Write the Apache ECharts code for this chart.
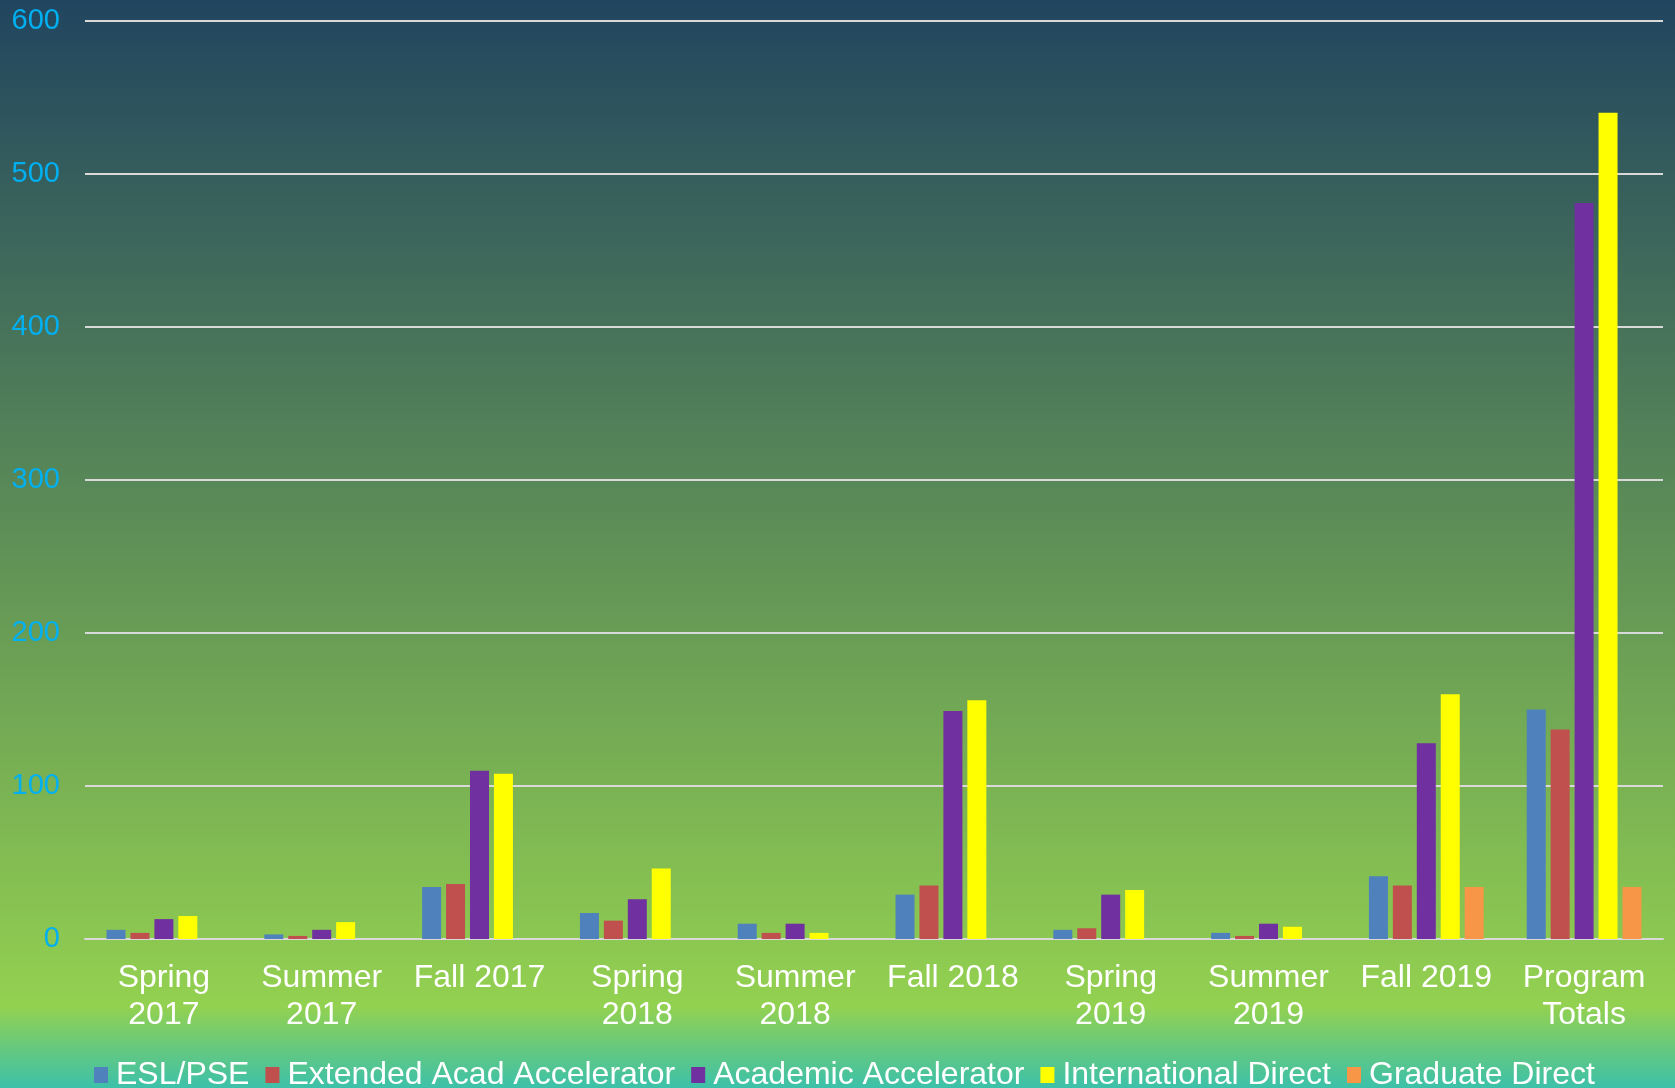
<!DOCTYPE html>
<html>
<head>
<meta charset="utf-8">
<script src="https://cdn.jsdelivr.net/npm/echarts@6/dist/echarts.min.js"></script>
<style>
  html, body { margin: 0; padding: 0; }
  #chart { width: 1675px; height: 1088px; }
</style>
</head>
<body>
<div id="chart"></div>
<script>
const categories = [
  "Spring\n2017", "Summer\n2017", "Fall 2017", "Spring\n2018", "Summer\n2018",
  "Fall 2018", "Spring\n2019", "Summer\n2019", "Fall 2019", "Program\nTotals"
];
const eslPse = [6, 3, 34, 17, 10, 29, 6, 4, 41, 150];
const extendedAcad = [4, 2, 36, 12, 4, 35, 7, 2, 35, 137];
const academicAcc = [13, 6, 110, 26, 10, 149, 29, 10, 128, 481];
const intlDirect = [15, 11, 108, 46, 4, 156, 32, 8, 160, 540];
const gradDirect = [null, null, null, null, null, null, null, null, 34, 34];
const yTicks = [0, 100, 200, 300, 400, 500, 600];

const font = "Arial, 'Liberation Sans', sans-serif";

function bar(name, data, color) {
  return {
    name: name,
    type: "bar",
    barWidth: 19,
    barGap: "26%",
    itemStyle: { color: color },
    data: data,
  };
}

const chart = echarts.init(document.getElementById("chart"));
const option = {
  backgroundColor: new echarts.graphic.LinearGradient(0, 0, 0, 1, [
    { offset: 0, color: "#21455f" },
    { offset: 0.925, color: "#93d150" },
    { offset: 1, color: "#3cc1aa" },
  ]),
  animation: false,
  grid: { left: 85, right: 12, top: 21, bottom: 149 },
  legend: {
    left: 94,
    top: 1059,
    padding: 0,
    itemWidth: 14,
    itemHeight: 16,
    itemGap: 16,
    icon: "rect",
    textStyle: { color: "#ffffff", fontSize: 32, fontFamily: font, padding: [0, 0, 0, 3] },
  },
  xAxis: {
    type: "category",
    data: categories,
    axisLine: { lineStyle: { color: "#d9d9d9", width: 2 } },
    axisTick: { show: false },
    axisLabel: {
      interval: 0,
      color: "#ffffff",
      fontSize: 32,
      lineHeight: 37,
      fontFamily: font,
      margin: 21,
    },
  },
  yAxis: {
    type: "value",
    min: yTicks[0],
    max: yTicks[yTicks.length - 1],
    interval: 100,
    axisLine: { show: false },
    axisTick: { show: false },
    splitLine: { lineStyle: { color: "#d9d9d9", width: 2 } },
    axisLabel: { color: "#00b0f0", fontSize: 29, fontFamily: font, margin: 25 },
  },
  series: [
    bar("ESL/PSE", eslPse, "#4f81bd"),
    bar("Extended Acad Accelerator", extendedAcad, "#c0504d"),
    bar("Academic Accelerator", academicAcc, "#7030a0"),
    bar("International Direct", intlDirect, "#ffff00"),
    bar("Graduate Direct", gradDirect, "#f79646"),
  ],
};
chart.setOption(option);
</script>
</body>
</html>
